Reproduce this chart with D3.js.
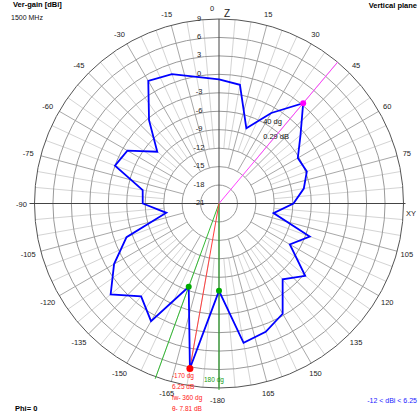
<!DOCTYPE html>
<html><head><meta charset="utf-8">
<script src="https://cdn.jsdelivr.net/npm/d3@7"></script>
<style>body{margin:0;background:#fff;overflow:hidden} svg{display:block}</style>
</head><body>
<script>
// ---- data ----
const angles = [0,10,20,30,40,50,60,70,80,90,100,110,120,130,140,150,160,170,180,
                -170,-160,-150,-140,-130,-120,-110,-100,-90,-80,-70,-60,-50,-40,-30,-20,-10];
const gains  = [-0.8,-1.4,-8.0,-4.0,0.29,-3.7,-6.2,-5.8,-7.0,-8.9,-12.0,-5.3,-7.7,-2.7,-4.9,-0.3,1.2,2.0,-6.8,
                6.25,-6.6,1.1,-1.3,2.0,-1.3,-5.0,-12.3,-8.6,-8.4,-3.0,-3.8,-7.9,-3.3,2.0,1.4,-0.1];
const ringTicks = [-21,-18,-15,-12,-9,-6,-3,0,3,6,9];
const angleTicks = [-165,-150,-135,-120,-105,-90,-75,-60,-45,-30,-15,0,15,30,45,60,75,105,120,135,150,165,180];
const maxMarker = {angle: 40, gain: 0.29};
const redMarker = {angle: -170, gain: 6.25};
const greenMarkers = [{angle: 180, gain: -6.8}, {angle: -160, gain: -6.6}];
const redTexts = ["-170 dg", "6.25 dB", "fw- 360 dg", "θ- 7.81 dB"];

// ---- layout ----
const W = 419, H = 416, cx = 219, cy = 203.5, R = 184.5;
const font = "Liberation Sans, Arial, sans-serif";
const svg = d3.select("body").append("svg").attr("width", W).attr("height", H)
  .style("font-family", font);
const r = d3.scaleLinear().domain([-21, 9]).range([0, R]);
const rad = d => d * Math.PI / 180;
const px = (a, rr) => cx + rr * Math.sin(rad(a));
const py = (a, rr) => cy - rr * Math.cos(rad(a));
const g = svg.append("g");

// 5-degree light spokes
const fine = d3.range(0, 360, 5).filter(a => a % 15 !== 0);
g.selectAll("line.fine").data(fine).join("line")
  .attr("x1", a => px(a, r(-12))).attr("y1", a => py(a, r(-12)))
  .attr("x2", a => px(a, R)).attr("y2", a => py(a, R))
  .attr("stroke", "#d4d4d4").attr("stroke-width", 1);
// 15-degree spokes
const major = d3.range(0, 360, 15).filter(a => a % 90 !== 0);
g.selectAll("line.major").data(major).join("line")
  .attr("x1", a => px(a, r(-15))).attr("y1", a => py(a, r(-15)))
  .attr("x2", a => px(a, R)).attr("y2", a => py(a, R))
  .attr("stroke", "#a8a8a8").attr("stroke-width", 1);
// rings
g.selectAll("circle.ring").data(ringTicks.slice(1, -1)).join("circle")
  .attr("cx", cx).attr("cy", cy).attr("r", d => r(d))
  .attr("fill", "none").attr("stroke", "#9a9a9a").attr("stroke-width", 1);
g.append("circle").attr("cx", cx).attr("cy", cy).attr("r", R)
  .attr("fill", "none").attr("stroke", "#555").attr("stroke-width", 1);
// axes
g.append("line").attr("x1", cx - R - 5).attr("x2", cx + R + 2).attr("y1", cy).attr("y2", cy)
  .attr("stroke", "#444").attr("stroke-width", 1);
g.append("line").attr("x1", cx).attr("x2", cx).attr("y1", cy - R).attr("y2", cy + R)
  .attr("stroke", "#444").attr("stroke-width", 1);

// ring labels
g.selectAll("text.rl").data(ringTicks).join("text")
  .attr("x", 199).attr("y", d => cy - r(d) + 1.5)
  .attr("text-anchor", "middle").attr("font-size", 7.5).attr("fill", "#222")
  .text(d => d);

// angle labels
g.selectAll("text.al").data(angleTicks).join("text")
  .attr("x", a => a === 0 ? cx - 7 : px(a, 196) - 1.5)
  .attr("y", a => py(a, 196) + 3)
  .attr("text-anchor", "middle").attr("font-size", 7.5).attr("fill", "#222")
  .text(a => a === 180 ? -180 : a);
svg.append("text").attr("x", 227).attr("y", 17).attr("font-size", 10).attr("fill", "#222").attr("text-anchor","middle").text("Z");
svg.append("text").attr("x", 411).attr("y", 216).attr("font-size", 7.5).attr("fill", "#222").attr("text-anchor","middle").text("XY");

// marker lines
const lineTo = (a, rr, color) => g.append("line")
  .attr("x1", cx).attr("y1", cy).attr("x2", px(a, rr)).attr("y2", py(a, rr))
  .attr("stroke", color).attr("stroke-width", 1);
lineTo(maxMarker.angle, R, "#ff40ff");
greenMarkers.forEach(m => lineTo(m.angle, R + 2, "#33bb33"));
lineTo(redMarker.angle, r(redMarker.gain), "#ff4040");

// pattern
const pts = angles.map((a, i) => ({a, v: gains[i]}));
const line = d3.lineRadial().angle(d => rad(d.a)).radius(d => r(Math.max(-21, d.v)))
  .curve(d3.curveLinearClosed);
g.append("path").datum(pts).attr("transform", `translate(${cx},${cy})`)
  .attr("d", line).attr("fill", "none").attr("stroke", "#0000ff").attr("stroke-width", 1.8)
  .attr("stroke-linejoin", "miter");

// markers
g.append("circle").attr("cx", px(maxMarker.angle, r(maxMarker.gain))).attr("cy", py(maxMarker.angle, r(maxMarker.gain)))
  .attr("r", 3).attr("fill", "#ff00ff");
g.selectAll("circle.gm").data(greenMarkers).join("circle")
  .attr("cx", m => px(m.angle, r(m.gain))).attr("cy", m => py(m.angle, r(m.gain)))
  .attr("r", 3).attr("fill", "#00aa00");
g.append("circle").attr("cx", px(redMarker.angle, r(redMarker.gain))).attr("cy", py(redMarker.angle, r(redMarker.gain)))
  .attr("r", 3.5).attr("fill", "#ff0000");

// marker texts
const mx = px(maxMarker.angle, r(maxMarker.gain)), my = py(maxMarker.angle, r(maxMarker.gain));
svg.append("text").attr("x", mx - 40).attr("y", my + 21).attr("font-size", 7.5).attr("fill", "#111").text(maxMarker.angle + " dg");
svg.append("text").attr("x", mx - 40).attr("y", my + 36).attr("font-size", 7.5).attr("fill", "#111").text(maxMarker.gain + " dB");
const rx = px(redMarker.angle, r(redMarker.gain)), ry = py(redMarker.angle, r(redMarker.gain));
svg.selectAll("text.rt").data(redTexts).join("text")
  .attr("x", rx - 18).attr("y", (d, i) => ry + 9 + i * 11)
  .attr("font-size", 6.5).attr("fill", "#ff2020").text(d => d);
svg.append("text").attr("x", 204).attr("y", 382).attr("font-size", 6.5).attr("fill", "#119911").text("180 dg");

// titles
svg.append("text").attr("x", 13).attr("y", 7).attr("font-size", 7.5).attr("font-weight", "bold").attr("fill", "#000").text("Ver-gain [dBi]");
svg.append("text").attr("x", 417).attr("y", 8).attr("text-anchor", "end").attr("font-size", 7.5).attr("font-weight", "bold").attr("fill", "#000").text("Vertical plane");
svg.append("text").attr("x", 11).attr("y", 20).attr("font-size", 7).attr("fill", "#111").text("1500 MHz");
svg.append("text").attr("x", 15).attr("y", 411).attr("font-size", 7.5).attr("font-weight", "bold").attr("fill", "#000").text("Phi= 0");
svg.append("text").attr("x", 417).attr("y", 403).attr("text-anchor", "end").attr("font-size", 7).attr("fill", "#2222ff").text("-12 < dBi < 6.25");
</script>
</body></html>
